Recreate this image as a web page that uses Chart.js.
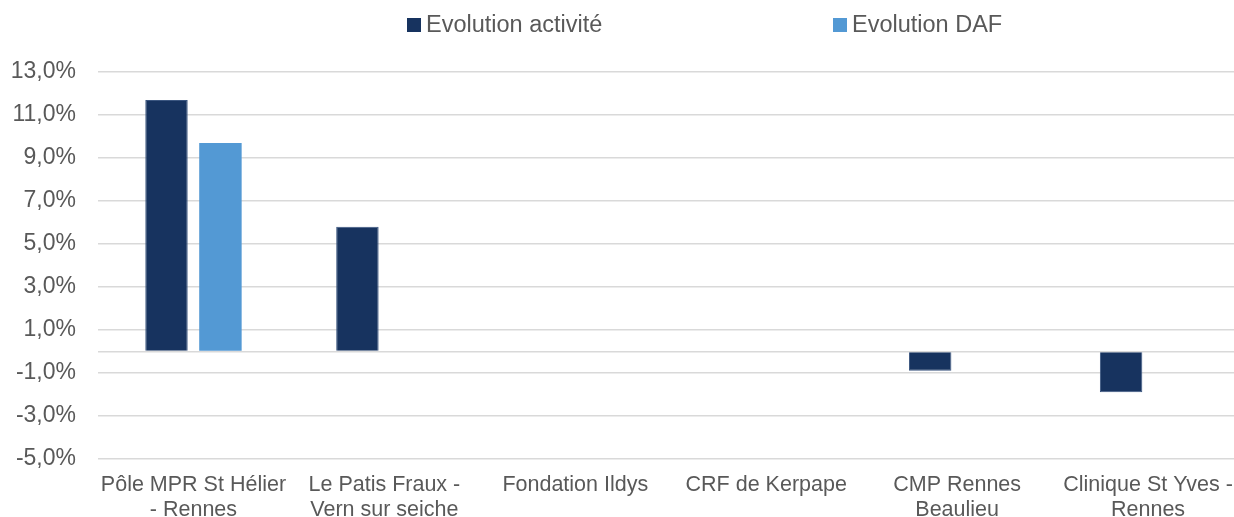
<!DOCTYPE html>
<html>
<head>
<meta charset="utf-8">
<script src="https://cdn.jsdelivr.net/npm/chart.js@4"></script>
<style>
    html, body { margin: 0; padding: 0; background: #fff; overflow: hidden; }
    #wrap { width: 1234px; height: 517px; overflow: hidden; }
</style>
</head>
<body>
<div id="wrap"><canvas id="myChart" width="1246" height="517"></canvas></div>
<script>
// data
var categories = [
    ["Pôle MPR St Hélier", "- Rennes"],
    ["Le Patis Fraux -", "Vern sur seiche"],
    "Fondation Ildys",
    "CRF de Kerpape",
    ["CMP Rennes", "Beaulieu"],
    ["Clinique St Yves -", "Rennes"]
];
var evolutionActivite = [11.7, 5.8, null, null, -0.9, -1.9];
var evolutionDaf = [9.7, null, null, null, null, null];
var yTicks = [-5, -3, -1, 0, 1, 3, 5, 7, 9, 11, 13];

var textColor = "#595959";
var fontFamily = "'Liberation Sans', Arial, sans-serif";

// legend drawn by hand, Excel spreads the two items wide apart
var topLegend = {
    id: 'topLegend',
    afterDraw: function (chart, args, opts) {
        var ctx = chart.ctx;
        ctx.save();
        ctx.font = opts.size + "px " + fontFamily;
        ctx.textBaseline = 'middle';
        chart.data.datasets.forEach(function (ds, i) {
            var x = opts.x[i];
            ctx.fillStyle = ds.backgroundColor;
            ctx.fillRect(x, opts.y - 7, 14, 14);
            ctx.fillStyle = textColor;
            ctx.fillText(ds.label, x + 19, opts.y + 1);
        });
        ctx.restore();
    }
};

var ctx = document.getElementById("myChart").getContext('2d');

var myChart = new Chart(ctx, {
    type: 'bar',
    data: {
        labels: categories,
        datasets: [
            {
                label: "Evolution activité",
                data: evolutionActivite,
                backgroundColor: "#17335f",
                borderColor: "#3b5680",
                borderWidth: 1
            },
            {
                label: "Evolution DAF",
                data: evolutionDaf,
                backgroundColor: "#5399d4",
                borderColor: "#5399d4",
                borderWidth: 0
            }
        ]
    },
    plugins: [topLegend],
    options: {
        responsive: false,
        animation: false,
        categoryPercentage: 0.565,
        barPercentage: 0.787,
        layout: { padding: { top: 72, right: 1, left: 0, bottom: 0 } },
        plugins: {
            legend: { display: false },
            tooltip: { enabled: false },
            topLegend: { x: [407, 833], y: 25, size: 23.5 }
        },
        scales: {
            x: {
                grid: { display: false, drawTicks: false },
                border: { display: false },
                ticks: {
                    color: textColor,
                    padding: 13,
                    maxRotation: 0,
                    autoSkip: false,
                    font: { family: fontFamily, size: 21.5, lineHeight: 1.18 }
                },
                afterFit: function (scale) { scale.height = 58; }
            },
            y: {
                min: -5,
                max: 13,
                afterBuildTicks: function (scale) {
                    scale.ticks = yTicks.map(function (v) { return { value: v }; });
                },
                afterFit: function (scale) { scale.width = 98; },
                grid: { color: "#d9d9d9", lineWidth: 1.5, drawTicks: false },
                border: { display: false },
                ticks: {
                    color: textColor,
                    padding: 22,
                    font: { family: fontFamily, size: 23 },
                    callback: function (value) {
                        if (value === 0) return '';
                        return value.toFixed(1).replace('.', ',') + '%';
                    }
                }
            }
        }
    }
});
</script>
</body>
</html>
